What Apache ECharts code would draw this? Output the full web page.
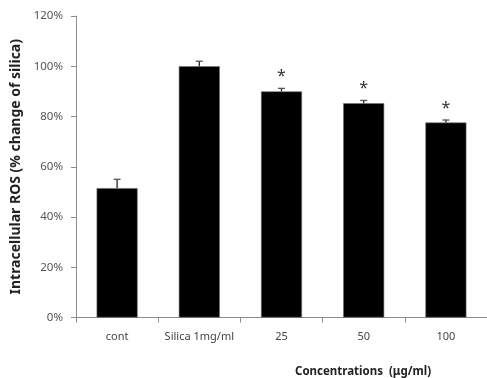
<!DOCTYPE html>
<html>
<head>
<meta charset="utf-8">
<script src="https://cdn.jsdelivr.net/npm/echarts@6/dist/echarts.min.js"></script>
<style>
  html, body { margin: 0; padding: 0; background: #ffffff; }
  #chart { width: 487px; height: 378px; }
</style>
</head>
<body>
<div id="chart"></div>
<script>
// Intracellular ROS as % of the silica-only response
const categories = ['cont', 'Silica 1mg/ml', '25', '50', '100'];
const rosValues = [51.5, 100, 90, 85.3, 77.6];
const rosErrors = [3.5, 2, 1.2, 1.1, 1];
const significance = ['', '', '*', '*', '*'];
const yTicks = { min: 0, max: 120, interval: 20 };
const xTitle = 'Concentrations  (\u03bcg/ml)';

const FONT = '"Noto Sans", "Noto Sans CJK KR", sans-serif';
const axisGray = '#8c8c8c';

const chart = echarts.init(document.getElementById('chart'), null, { renderer: 'canvas' });

// error bars (upper whisker only) with significance marks above
function renderError(params, api) {
  const idx = params.dataIndex;
  const x = api.value(0);
  const v = api.value(1);
  const e = api.value(2);
  const base = api.coord([x, v]);
  const top = api.coord([x, v + e]);
  const half = 3.5;
  const children = [
    { type: 'line', shape: { x1: base[0], y1: base[1], x2: top[0], y2: top[1] },
      style: { stroke: '#222', lineWidth: 1.3 } },
    { type: 'line', shape: { x1: top[0] - half, y1: top[1], x2: top[0] + half, y2: top[1] },
      style: { stroke: '#555', lineWidth: 1.3 } }
  ];
  if (significance[idx]) {
    children.push({
      type: 'text',
      style: {
        text: significance[idx], x: top[0], y: top[1] - 4,
        align: 'center', verticalAlign: 'bottom',
        font: '16px ' + FONT, fill: '#333'
      }
    });
  }
  return { type: 'group', children: children };
}

chart.setOption({
  animation: false,
  backgroundColor: '#ffffff',
  grid: { left: 76, right: 0, top: 16, bottom: 60.5, containLabel: false, outerBoundsMode: 'none' },
  graphic: [
    {
      type: 'text',
      left: 295, top: 366,
      style: { text: xTitle, font: 'bold 11.5px ' + FONT, fill: '#222' }
    }
  ],
  xAxis: {
    type: 'category',
    data: categories,
    axisLine: { lineStyle: { color: axisGray, width: 1 } },
    axisTick: { show: true, length: 5, inside: false, lineStyle: { color: axisGray } },
    axisLabel: { interval: 0, fontFamily: FONT, fontSize: 11, color: '#444', margin: 14 },
    splitLine: { show: false }
  },
  yAxis: {
    type: 'value',
    min: yTicks.min, max: yTicks.max, interval: yTicks.interval,
    name: 'Intracellular ROS (% change of silica)',
    nameLocation: 'middle',
    nameGap: 52,
    nameRotate: 90,
    nameTextStyle: { fontFamily: FONT, fontSize: 14, fontWeight: 'bold', color: '#222' },
    axisLine: { show: true, lineStyle: { color: axisGray, width: 1 } },
    axisTick: { show: true, length: 5, inside: false, lineStyle: { color: axisGray } },
    axisLabel: { fontFamily: FONT, fontSize: 11.5, color: '#555', margin: 13, formatter: '{value}%' },
    splitLine: { show: false }
  },
  series: [
    {
      type: 'bar',
      data: rosValues,
      barWidth: 41,
      itemStyle: { color: '#000000', borderColor: '#6e6e6e', borderWidth: 0.6 },
      z: 2
    },
    {
      type: 'custom',
      renderItem: renderError,
      data: rosValues.map((v, i) => [i, v, rosErrors[i]]),
      encode: { x: 0, y: 1 },
      z: 3
    }
  ]
});
</script>
</body>
</html>
